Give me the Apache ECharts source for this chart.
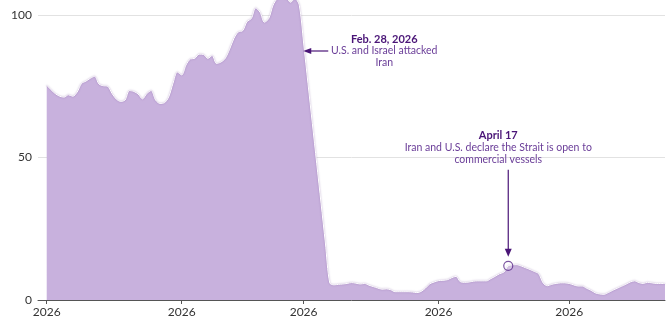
<!DOCTYPE html>
<html>
<head>
<meta charset="utf-8">
<script src="https://cdn.jsdelivr.net/npm/echarts@6/dist/echarts.min.js"></script>
<style>
html, body { margin: 0; padding: 0; background: #fff; }
#chart { width: 671px; height: 325px; }
</style>
</head>
<body>
<div id="chart"></div>
<script>
// daily values from Jan 1 2026
var startDate = '2026-01-01';
var values = [
    75.4, 73.8, 72.4, 71.5, 71.2, 72.0, 71.5, 73.0, 76.0, 76.8,
    77.8, 78.5, 75.8, 75.2, 75.0, 72.5, 70.5, 69.7, 70.2, 73.5,
    73.2, 72.3, 70.6, 72.5, 73.5, 70.2, 69.0, 69.2, 71.2, 76.0,
    80.0, 79.0, 82.5, 84.6, 84.8, 86.3, 86.2, 84.8, 85.8, 83.0,
    83.5, 84.8, 88.0, 91.8, 94.1, 94.5, 97.7, 98.8, 102.5, 101.0,
    97.5, 98.8, 103.5, 105.8, 106.2, 106.0, 104.5, 105.8, 103.5, 90.2,
    76.0, 62.0, 48.0, 34.0, 20.0, 6.0, 5.3, 5.5, 5.6, 5.8,
    6.1, 5.9, 5.6, 5.8, 5.2, 4.7, 4.2, 3.8, 3.9, 3.6,
    2.9, 2.9, 2.9, 2.9, 2.8, 2.6, 3.0, 4.2, 5.7, 6.3,
    6.8, 6.9, 7.1, 7.8, 8.3, 6.4, 6.2, 6.3, 6.6, 6.7,
    6.7, 6.7, 7.5, 8.3, 9.2, 9.8, 12.0, 12.3, 12.4, 11.9,
    11.3, 10.7, 10.0, 9.2, 6.0, 5.0, 5.5, 5.8, 6.0, 6.0,
    5.8, 5.3, 4.9, 4.9, 4.1, 3.4, 2.5, 2.1, 2.0, 2.6,
    3.4, 4.1, 4.8, 5.5, 6.3, 6.7, 6.1, 5.8, 6.2, 6.0,
    5.8, 5.8, 5.8
];
var monthTicks = ['2026-01-01', '2026-02-01', '2026-03-01', '2026-04-01', '2026-05-01'];
var yTicks = [0, 50, 100];
var axisRange = ['2025-12-30', '2026-05-23'];

var feb28 = { date: '2026-02-28', arrowAt: 87.4, title: 'Feb. 28, 2026', lines: ['U.S. and Israel attacked', 'Iran'] };
var apr17 = { date: '2026-04-17', title: 'April 17', lines: ['Iran and U.S. declare the Strait is open to', 'commercial vessels'] };

function toTime(s) {
    var p = s.split('-');
    return new Date(+p[0], +p[1] - 1, +p[2]).getTime();
}

var seriesData = [];
var t0 = toTime(startDate);
for (var i = 0; i < values.length; i++) {
    var d = new Date(t0);
    d.setDate(d.getDate() + i);
    seriesData.push([d.getTime(), values[i]]);
}
function valueOn(s) {
    var t = toTime(s);
    for (var i = 0; i < seriesData.length; i++) {
        if (seriesData[i][0] === t) return seriesData[i][1];
    }
}

var darkPurple = '#4a1577';
var textPurple = '#6a3d98';
var fontFamily = 'Lato, "Open Sans", sans-serif';

var myChart = echarts.init(document.getElementById('chart'));
var option = {
    animation: false,
    grid: { left: 38, right: 6, top: 0, bottom: 25, containLabel: false },
    xAxis: {
        type: 'value',
        min: toTime(axisRange[0]),
        max: toTime(axisRange[1]),
        axisLine: { lineStyle: { color: '#555', width: 1 } },
        axisTick: { show: true, length: 4, customValues: monthTicks.map(toTime), lineStyle: { color: '#555' } },
        axisLabel: {
            customValues: monthTicks.map(toTime),
            formatter: function (v) { return String(new Date(v).getFullYear()); },
            color: '#333', fontSize: 12, fontFamily: fontFamily, margin: 6
        },
        splitLine: { show: false }
    },
    yAxis: {
        type: 'value',
        min: 0,
        max: 105.3,
        interval: 50,
        axisLine: { show: false },
        axisTick: { show: false },
        axisLabel: {
            showMaxLabel: false,
            formatter: function (v) { return yTicks.indexOf(v) >= 0 ? String(v) : ''; },
            color: '#333', fontSize: 12, fontFamily: fontFamily, margin: 6
        },
        splitLine: { show: true, showMaxLine: false, lineStyle: { color: '#e2e2e2', width: 1 } }
    },
    series: [
        {
            type: 'line',
            data: seriesData,
            showSymbol: false,
            smooth: 0.3,
            clip: true,
            lineStyle: { color: '#ffffff', width: 1, shadowColor: 'rgba(90,40,130,0.5)', shadowBlur: 1.5 },
            areaStyle: { color: '#c8b1dd', opacity: 1 }
        },
        {
            type: 'scatter',
            data: [[toTime(apr17.date), valueOn(apr17.date)]],
            symbol: 'circle',
            symbolSize: 9,
            itemStyle: { color: 'rgba(255,255,255,0.35)', borderColor: '#5a2a8a', borderWidth: 1.2 },
            z: 5
        }
    ]
};
myChart.setOption(option);

function textEl(x, y, str, bold, color) {
    return {
        type: 'text',
        style: {
            x: x, y: y, text: str,
            align: 'center', verticalAlign: 'middle',
            fill: color,
            font: bold ? 'bold 11px ' + fontFamily : '10.5px ' + fontFamily
        },
        z: 10
    };
}

var g = [];
// Feb 28 annotation
var p1 = myChart.convertToPixel({ xAxisIndex: 0, yAxisIndex: 0 }, [toTime(feb28.date), feb28.arrowAt]);
var tipX = p1[0] + 4, tipY = p1[1];
g.push({ type: 'line', shape: { x1: tipX + 5, y1: tipY, x2: tipX + 25, y2: tipY }, style: { stroke: darkPurple, lineWidth: 1.2 }, z: 10 });
g.push({ type: 'polygon', shape: { points: [[tipX, tipY], [tipX + 8, tipY - 3], [tipX + 8, tipY + 3]] }, style: { fill: darkPurple }, z: 10 });
g.push(textEl(tipX + 81, tipY - 12, feb28.title, true, darkPurple));
for (var k = 0; k < feb28.lines.length; k++) g.push(textEl(tipX + 81, tipY + k * 12, feb28.lines[k], false, textPurple));

// April 17 annotation
var p2 = myChart.convertToPixel({ xAxisIndex: 0, yAxisIndex: 0 }, [toTime(apr17.date), valueOn(apr17.date)]);
var cx = p2[0], cy = p2[1];
g.push({ type: 'line', shape: { x1: cx, y1: cy - 96, x2: cx, y2: cy - 16 }, style: { stroke: darkPurple, lineWidth: 1.2 }, z: 10 });
g.push({ type: 'polygon', shape: { points: [[cx, cy - 9], [cx - 3.5, cy - 17], [cx + 3.5, cy - 17]] }, style: { fill: darkPurple }, z: 10 });
g.push(textEl(cx - 10, cy - 130, apr17.title, true, darkPurple));
for (var m = 0; m < apr17.lines.length; m++) g.push(textEl(cx - 10, cy - 118 + m * 12, apr17.lines[m], false, textPurple));

myChart.setOption({ graphic: g });
</script>
</body>
</html>
